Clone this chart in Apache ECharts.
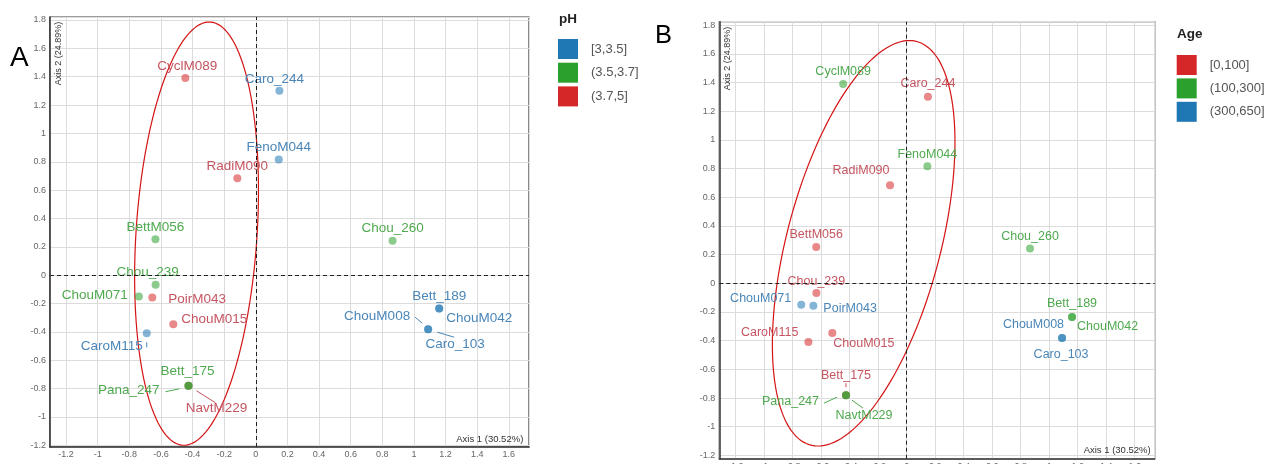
<!DOCTYPE html>
<html><head><meta charset="utf-8">
<script src="https://cdn.jsdelivr.net/npm/echarts@6/dist/echarts.min.js"></script>
<style>html,body{margin:0;padding:0;background:#fff}#c{width:1268px;height:464px}</style>
</head><body><div id="c"></div>
<script>
// ---------------- data ----------------
const samples = ['CyclM089','Caro_244','FenoM044','RadiM090','BettM056','Chou_239','ChouM071','PoirM043','ChouM015','CaroM115','Bett_175','Pana_247','NavtM229','Chou_260','Bett_189','ChouM042','ChouM008','Caro_103'];
const axis1 = [-0.446, 0.149, 0.145, -0.117, -0.635, -0.634, -0.740, -0.655, -0.522, -0.690, -0.426, -0.426, -0.426, 0.865, 1.160, 1.160, 1.090, 1.090];
const axis2 = [1.390, 1.300, 0.816, 0.683, 0.253, -0.068, -0.150, -0.157, -0.346, -0.410, -0.780, -0.780, -0.780, 0.243, -0.235, -0.235, -0.381, -0.381];
const phGroups = ['(3.7,5]','[3,3.5]','[3,3.5]','(3.7,5]','(3.5,3.7]','(3.5,3.7]','(3.5,3.7]','(3.7,5]','(3.7,5]','[3,3.5]','(3.5,3.7]','(3.5,3.7]','(3.7,5]','(3.5,3.7]','[3,3.5]','[3,3.5]','[3,3.5]','[3,3.5]'];
const ageGroups = ['(100,300]','[0,100]','(100,300]','[0,100]','[0,100]','[0,100]','(300,650]','(300,650]','[0,100]','[0,100]','[0,100]','(100,300]','(100,300]','(100,300]','(100,300]','(100,300]','(300,650]','(300,650]'];
const phLevels = ['[3,3.5]','(3.5,3.7]','(3.7,5]'];
const ageLevels = ['[0,100]','(100,300]','(300,650]'];
const axis1Title = 'Axis 1 (30.52%)';
const axis2Title = 'Axis 2 (24.89%)';
// ellipse annotations: centre and two conjugate semi-axis vectors (data units)
const ellipseA = [-0.375, 0.293, -0.080, -1.4926, 0.3835, 0];
const ellipseB = [-0.302, 0.279, -0.320, -1.4135, 0.555, 0];

// ---------------- styles / placement ----------------
const FONT = 'Liberation Sans, Arial, sans-serif';
const hue = {blue:'#1f77b4', green:'#2ca02c', red:'#d62728'};
const textHue = {blue:'#4a86b8', green:'#4fa94f', red:'#c55561'};
const hueZ = {red:3, green:4, blue:4};
const phHue = {'[3,3.5]':'blue','(3.5,3.7]':'green','(3.7,5]':'red'};
const ageHue = {'[0,100]':'red','(100,300]':'green','(300,650]':'blue'};
// label offsets in px relative to the point: [dx, dy, align]
const placeA = {CyclM089:[2,-12,'center'],Caro_244:[-5,-12,'center'],FenoM044:[0,-12,'center'],RadiM090:[0,-12,'center'],BettM056:[0,-12,'center'],Chou_239:[-8,-13,'center'],ChouM071:[-11,-1,'right'],PoirM043:[16,2,'left'],ChouM015:[8,-5,'left'],CaroM115:[-4,13,'right'],Bett_175:[-1,-14,'center'],Pana_247:[-29,5,'right'],NavtM229:[28,23,'center'],Chou_260:[0,-12,'center'],Bett_189:[0,-12,'center'],ChouM042:[7,10,'left'],ChouM008:[-18,-13,'right'],Caro_103:[27,15,'center']};
const placeB = {CyclM089:[0,-12,'center'],Caro_244:[0,-13,'center'],FenoM044:[0,-12,'center'],RadiM090:[-29,-15,'center'],BettM056:[0,-12,'center'],Chou_239:[0,-12,'center'],ChouM071:[-10,-6,'right'],PoirM043:[10,3,'left'],ChouM015:[1,11,'left'],CaroM115:[-10,-10,'right'],Bett_175:[0,-20,'center'],Pana_247:[-27,6,'right'],NavtM229:[18,20,'center'],Chou_260:[0,-12,'center'],Bett_189:[0,-13,'center'],ChouM042:[5,10,'left'],ChouM008:[2,-13,'right'],Caro_103:[-1,17,'center']};
// connector segments, px offsets relative to the point
const linksA = [['CaroM115',0,9,0,14],['Pana_247',-23,6,-9,3],['NavtM229',8,5,27,17],['ChouM008',-13,-12,-6,-6],['Caro_103',9,3,26,8]];
const linksB = [['Bett_175',0,-12,0,-8],['Pana_247',-22,8,-9,2],['NavtM229',6,5,17,13]];

const panels = [
  {groups:phGroups, levels:phLevels, hueMap:phHue, place:placeA, links:linksA, ellipse:ellipseA, fs:13.5,
   grid:{left:50, top:17, width:479, height:430}, x:[-1.302,1.728], y:[-1.212,1.821],
   legend:{left:558, top:39, gap:3.7}, legendTitle:{text:'pH', x:559, y:19},
   letter:{text:'A', x:10, y:58, size:28}, t2:{x:58.3, y:21.7}, t1:{x:523.3, y:439.3}},
  {groups:ageGroups, levels:ageLevels, hueMap:ageHue, place:placeB, links:linksB, ellipse:ellipseB, fs:12.5,
   grid:{left:719.3, top:21.7, width:435.4, height:437}, x:[-1.315,1.740], y:[-1.223,1.824],
   legend:{left:1176.7, top:55, gap:3.4}, legendTitle:{text:'Age', x:1177, y:34},
   letter:{text:'B', x:655, y:36, size:25.5}, t2:{x:727.3, y:26.7}, t1:{x:1150.7, y:450}}
];

const fmt = v => { const k = v/0.2; return Math.abs(k-Math.round(k))<1e-6 ? String(+v.toFixed(1)) : ''; };

const option = {animation:false, backgroundColor:'#fff', grid:[], xAxis:[], yAxis:[], series:[], legend:[], graphic:[]};

panels.forEach((p, i) => {
  option.grid.push(Object.assign({show:true, borderColor:'#3a3a3a', borderWidth:1.2, backgroundColor:'#fff',
    containLabel:false, outerBoundsMode:'none'}, p.grid));
  const axisCommon = {type:'value', gridIndex:i, minInterval:0.2, maxInterval:0.2, splitNumber:15,
    axisTick:{show:false},
    axisLine:{show:true, onZero:false, lineStyle:{color:'#333', width:1.5}},
    splitLine:{show:true, lineStyle:{color:'#dcdcdc', width:1}},
    axisLabel:{fontSize:9, color:'#666', fontFamily:FONT, formatter:fmt}};
  option.xAxis.push(Object.assign({}, axisCommon, {min:p.x[0], max:p.x[1], axisLabel:Object.assign({}, axisCommon.axisLabel, {margin:3})}));
  option.yAxis.push(Object.assign({}, axisCommon, {min:p.y[0], max:p.y[1], axisLabel:Object.assign({}, axisCommon.axisLabel, {margin:4})}));

  // ellipse
  option.series.push({type:'custom', xAxisIndex:i, yAxisIndex:i, silent:true, z:1, clip:false,
    data:[p.ellipse], encode:{x:0, y:1},
    renderItem:(params, api) => {
      const e = [0,1,2,3,4,5].map(k => api.value(k));
      const pts = [];
      for (let k=0;k<=160;k++){ const t=2*Math.PI*k/160;
        pts.push(api.coord([e[0]+e[2]*Math.cos(t)+e[4]*Math.sin(t), e[1]+e[3]*Math.cos(t)+e[5]*Math.sin(t)])); }
      return {type:'polyline', shape:{points:pts}, style:{stroke:'#d41414', fill:null, lineWidth:1.2}};
    }});

  // scatter series by group
  p.levels.forEach((lvl, j) => {
    const h = p.hueMap[lvl];
    const data = [];
    samples.forEach((s, k) => {
      if (p.groups[k] !== lvl) return;
      const pl = p.place[s];
      data.push({name:s, value:[axis1[k], axis2[k]], label:{offset:[pl[0], pl[1]], align:pl[2]}});
    });
    const ser = {type:'scatter', name:lvl, xAxisIndex:i, yAxisIndex:i, data, symbolSize:8, z:hueZ[h],
      itemStyle:{color:hue[h], opacity:0.55},
      label:{show:true, position:'inside', formatter:'{b}', color:textHue[h], opacity:1, fontSize:p.fs, fontFamily:FONT, verticalAlign:'middle'},
      emphasis:{disabled:true}};
    if (j === 0) {
      ser.markLine = {silent:true, symbol:'none', label:{show:false},
        lineStyle:{color:'#222', type:[4,3], width:1, opacity:1},
        data:[{xAxis:0},{yAxis:0}]};
    }
    option.series.push(ser);
  });

  // connector segments
  option.series.push({type:'custom', xAxisIndex:i, yAxisIndex:i, silent:true, z:2, clip:false,
    data:p.links.map(l => { const k = samples.indexOf(l[0]); return [axis1[k], axis2[k], l[1], l[2], l[3], l[4]]; }),
    encode:{x:0, y:1},
    renderItem:(params, api) => {
      const c = api.coord([api.value(0), api.value(1)]);
      const s = p.links[params.dataIndex][0];
      const h = p.hueMap[p.groups[samples.indexOf(s)]];
      return {type:'line', shape:{x1:c[0]+api.value(2), y1:c[1]+api.value(3), x2:c[0]+api.value(4), y2:c[1]+api.value(5)},
        style:{stroke:textHue[h], lineWidth:1}};
    }});

  option.legend.push({orient:'vertical', left:p.legend.left, top:p.legend.top, itemWidth:20, itemHeight:20, itemGap:p.legend.gap,
    icon:'rect', selectedMode:false, padding:0,
    data:p.levels.map(l => ({name:l, itemStyle:{color:hue[p.hueMap[l]], opacity:1}})),
    textStyle:{fontSize:13, color:'#555', fontFamily:FONT, padding:[0,0,0,8]}});

  option.graphic.push(
    {type:'text', x:p.legendTitle.x, y:p.legendTitle.y, style:{text:p.legendTitle.text, fontSize:13.5, fontWeight:'bold', fill:'#222', fontFamily:FONT, textAlign:'left', textVerticalAlign:'middle'}},
    {type:'text', x:p.letter.x, y:p.letter.y, style:{text:p.letter.text, fontSize:p.letter.size, fill:'#000', fontFamily:FONT, textAlign:'left', textVerticalAlign:'middle'}},
    {type:'text', x:p.t2.x, y:p.t2.y, rotation:Math.PI/2, z:10, style:{text:axis2Title, fontSize:9, fill:'#333', fontFamily:FONT, textAlign:'right', textVerticalAlign:'middle'}},
    {type:'text', x:p.t1.x, y:p.t1.y, z:10, style:{text:axis1Title, fontSize:9.5, fill:'#333', fontFamily:FONT, textAlign:'right', textVerticalAlign:'middle'}}
  );
});

const chart = echarts.init(document.getElementById('c'), null, {renderer:'canvas'});
chart.setOption(option);
</script></body></html>
